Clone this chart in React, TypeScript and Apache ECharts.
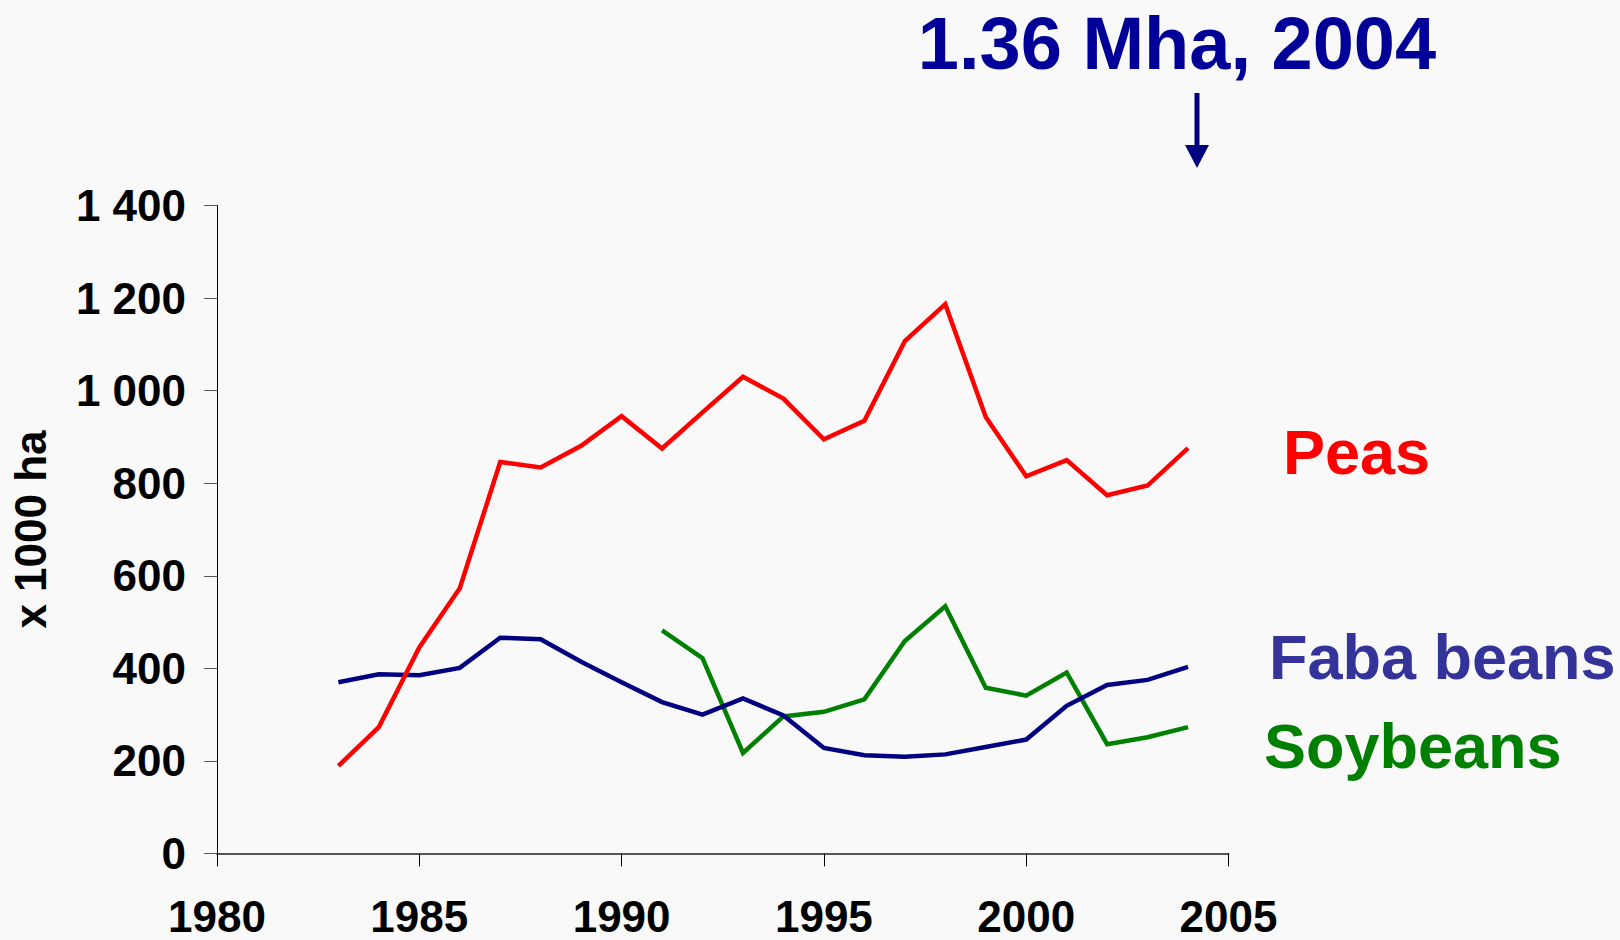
import React, { useEffect, useRef } from "react";
import * as echarts from "echarts";

const years = [1983, 1984, 1985, 1986, 1987, 1988, 1989, 1990, 1991, 1992, 1993, 1994, 1995, 1996, 1997, 1998, 1999, 2000, 2001, 2002, 2003, 2004];
const peas = [189, 273, 445, 573, 846, 834, 881, 945, 875, 953, 1030, 983, 895, 935, 1107, 1187, 943, 815, 850, 774, 795, 876];
const fabaBeans = [370, 387, 385, 401, 466, 463, 414, 370, 327, 300, 335, 298, 228, 212, 209, 214, 230, 246, 319, 364, 375, 403];
const soyYears = [1991, 1992, 1993, 1994, 1995, 1996, 1997, 1998, 1999, 2000, 2001, 2002, 2003, 2004];
const soybeans = [482, 422, 217, 296, 306, 333, 459, 534, 358, 341, 391, 236, 251, 273];

const seriesNames = ["Peas", "Faba beans", "Soybeans"];
const seriesColors = ["#ff0000", "#000080", "#008000"];
const labelColors = ["#ff0000", "#333399", "#008000"];
const annotation = "1.36 Mha, 2004";
const yAxisTitle = "x 1000 ha";

const FONT = "'Liberation Sans', Arial, Helvetica, sans-serif";

export default function App() {
  const ref = useRef<HTMLDivElement>(null);

  useEffect(() => {
    if (!ref.current) return;
    const chart = echarts.init(ref.current, undefined, { renderer: "svg" });
    const pair = (xs: number[], ys: number[]) => xs.map((x, i) => [x, ys[i]]);

    chart.setOption({
      animation: false,
      backgroundColor: "#f9f9f9",
      grid: { left: 217, right: 391.5, top: 205.6, bottom: 86.6, containLabel: false },
      xAxis: {
        type: "value",
        min: 1980,
        max: 2005,
        interval: 5,
        axisLine: { show: true, onZero: false, lineStyle: { color: "#555555", width: 2 } },
        axisTick: { show: true, length: 13, lineStyle: { color: "#000000", width: 1 } },
        splitLine: { show: false },
        axisLabel: {
          margin: 43,
          color: "#000000",
          fontFamily: FONT,
          fontWeight: "bold",
          fontSize: 44,
          lineHeight: 40,
          formatter: (v: number) => String(v),
        },
      },
      yAxis: {
        type: "value",
        min: 0,
        max: 1400,
        interval: 200,
        name: yAxisTitle,
        nameLocation: "middle",
        nameRotate: 90,
        nameGap: 165,
        nameTextStyle: { color: "#000000", fontFamily: FONT, fontWeight: "bold", fontSize: 44 },
        axisLine: { show: true, lineStyle: { color: "#000000", width: 1 } },
        axisTick: { show: true, length: 13, lineStyle: { color: "#555555", width: 1 } },
        splitLine: { show: false },
        axisLabel: {
          margin: 31,
          color: "#000000",
          fontFamily: FONT,
          fontWeight: "bold",
          fontSize: 44,
          formatter: (v: number) => String(v).replace(/\B(?=(\d{3})+(?!\d))/g, " "),
        },
      },
      series: [
        { name: seriesNames[0], type: "line", data: pair(years, peas) },
        { name: seriesNames[1], type: "line", data: pair(years, fabaBeans) },
        { name: seriesNames[2], type: "line", data: pair(soyYears, soybeans) },
      ].map((s, i) => ({
        ...s,
        symbol: "none",
        lineStyle: { color: seriesColors[i], width: 4.5, cap: "butt", join: "miter" },
        itemStyle: { color: seriesColors[i] },
        z: 3 - i,
      })),
      graphic: [
        {
          type: "text",
          x: 1177,
          y: 43,
          style: {
            text: annotation,
            fill: "#000099",
            font: `bold 74px ${FONT}`,
            textAlign: "center",
            textVerticalAlign: "middle",
          },
        },
        {
          type: "line",
          shape: { x1: 1197, y1: 93, x2: 1197, y2: 147 },
          style: { stroke: "#000080", lineWidth: 5 },
        },
        {
          type: "polygon",
          shape: { points: [[1185, 145], [1209, 145], [1197, 168]] },
          style: { fill: "#000080" },
        },
        {
          type: "text",
          x: 1283,
          y: 452,
          style: { text: seriesNames[0], fill: labelColors[0], font: `bold 63px ${FONT}`, textAlign: "left", textVerticalAlign: "middle" },
        },
        {
          type: "text",
          x: 1269,
          y: 657,
          style: { text: seriesNames[1], fill: labelColors[1], font: `bold 63px ${FONT}`, textAlign: "left", textVerticalAlign: "middle" },
        },
        {
          type: "text",
          x: 1264,
          y: 746,
          style: { text: seriesNames[2], fill: labelColors[2], font: `bold 63px ${FONT}`, textAlign: "left", textVerticalAlign: "middle" },
        },
      ],
    });

    return () => chart.dispose();
  }, []);

  return (
    <div
      ref={ref}
      style={{ position: "fixed", left: 0, top: 0, width: 1620, height: 940, background: "#f9f9f9" }}
    />
  );
}
